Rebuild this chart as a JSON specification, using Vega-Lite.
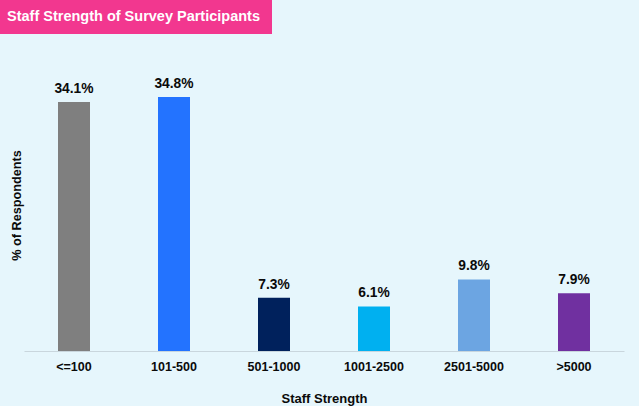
{
  "$schema": "https://vega.github.io/schema/vega-lite/v6.json",
  "background": "#e6f6fc",
  "padding": 0,
  "spacing": 25,
  "bounds": "flush",
  "config": {
    "font": "Liberation Sans",
    "view": {"stroke": null}
  },
  "vconcat": [
    {
      "width": 272,
      "height": 34,
      "view": {"fill": "#f2378f", "stroke": null},
      "data": {"values": [{"title": "Staff Strength of Survey Participants"}]},
      "mark": {"type": "text", "align": "left", "baseline": "middle", "color": "white", "fontWeight": "bold", "fontSize": 14.5, "font": "Liberation Sans"},
      "encoding": {
        "text": {"field": "title"},
        "x": {"value": 7},
        "y": {"value": 17}
      }
    },
    {
      "width": 639,
      "height": 292,
      "data": {
        "values": [
          {"size": "<=100", "pct": 34.1, "label": "34.1%"},
          {"size": "101-500", "pct": 34.8, "label": "34.8%"},
          {"size": "501-1000", "pct": 7.3, "label": "7.3%"},
          {"size": "1001-2500", "pct": 6.1, "label": "6.1%"},
          {"size": "2501-5000", "pct": 9.8, "label": "9.8%"},
          {"size": ">5000", "pct": 7.9, "label": "7.9%"}
        ]
      },
      "encoding": {
        "x": {
          "field": "size",
          "type": "nominal",
          "sort": null,
          "scale": {"range": [24, 624], "paddingInner": 0.68, "paddingOuter": 0.34},
          "axis": {
            "title": "Staff Strength",
            "labelAngle": 0,
            "ticks": false,
            "domainColor": "#c9d6dd",
            "domainWidth": 1,
            "labelFont": "Liberation Sans",
            "labelFontWeight": "bold",
            "labelFontSize": 12.5,
            "labelColor": "#0a0a0a",
            "labelPadding": 9,
            "titleFont": "Liberation Sans",
            "titleFontWeight": "bold",
            "titleFontSize": 13,
            "titleColor": "#0a0a0a",
            "titlePadding": 20
          }
        },
        "y": {
          "field": "pct",
          "type": "quantitative",
          "scale": {"domain": [0, 40]},
          "axis": {
            "title": "% of Respondents",
            "labels": false,
            "ticks": false,
            "domain": false,
            "grid": false,
            "titleX": 16,
            "titleY": 146,
            "titleAngle": -90,
            "titleAlign": "center",
            "titleBaseline": "middle",
            "titleFont": "Liberation Sans",
            "titleFontWeight": "bold",
            "titleFontSize": 12.7,
            "titleColor": "#0a0a0a"
          }
        }
      },
      "layer": [
        {
          "mark": {"type": "bar"},
          "encoding": {
            "color": {
              "field": "size",
              "type": "nominal",
              "scale": {
                "domain": ["<=100", "101-500", "501-1000", "1001-2500", "2501-5000", ">5000"],
                "range": ["#7f7f7f", "#2373ff", "#00215c", "#00b0f0", "#6ca5e2", "#7030a0"]
              },
              "legend": null
            }
          }
        },
        {
          "mark": {"type": "text", "baseline": "bottom", "dy": -6, "fontWeight": "bold", "fontSize": 13.8, "color": "#0a0a0a", "font": "Liberation Sans"},
          "encoding": {"text": {"field": "label"}}
        }
      ]
    }
  ]
}
